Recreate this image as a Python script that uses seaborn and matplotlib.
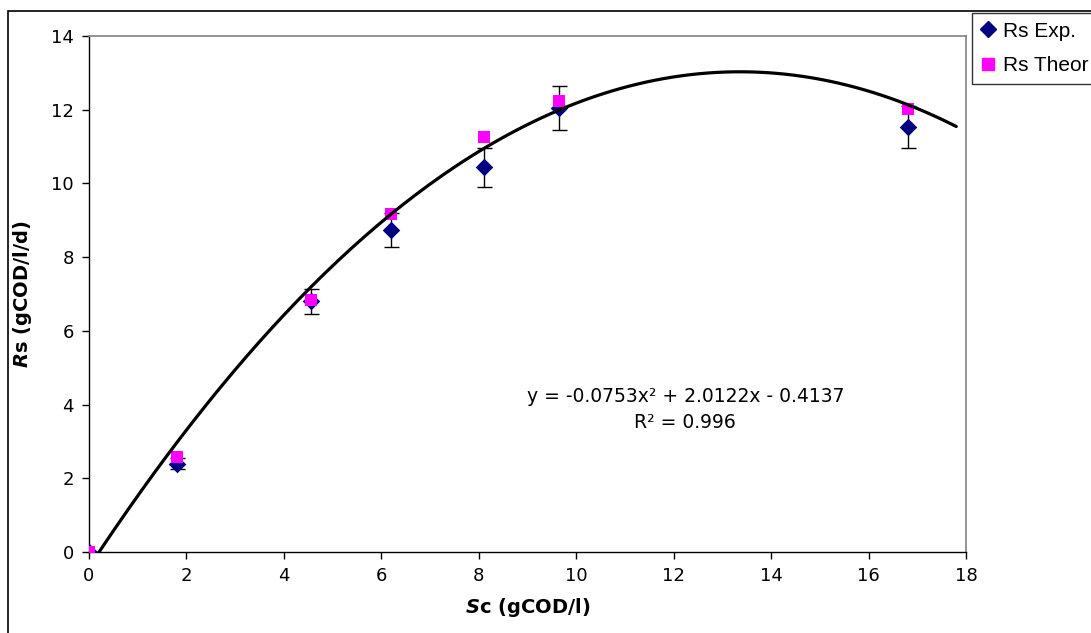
import numpy as np
import pandas as pd
import matplotlib
matplotlib.use("Agg")
import matplotlib.pyplot as plt
from matplotlib.lines import Line2D
from matplotlib.patches import Rectangle
import seaborn as sns

# ---- data ----
sc = [0.0, 1.8, 4.55, 6.2, 8.1, 9.65, 16.8]
rs_exp = [0.0, 2.4, 6.8, 8.73, 10.44, 12.05, 11.53]
rs_err = [0.0, 0.15, 0.33, 0.46, 0.53, 0.6, 0.56]
rs_theor = [0.0, 2.57, 6.85, 9.18, 11.25, 12.24, 12.03]
trend_coef = [-0.0753, 2.0122, -0.4137]
trend_range = [0.0, 17.8]
x_ticks = [0, 2, 4, 6, 8, 10, 12, 14, 16, 18]
y_ticks = [0, 2, 4, 6, 8, 10, 12, 14]
legend_labels = ["Rs Exp.", "Rs Theor"]
eq_text = "y = -0.0753x\u00b2 + 2.0122x - 0.4137"
r2_text = "R\u00b2 = 0.996"

sns.set_theme(style="white")
plt.rcParams["font.family"] = ["DejaVu Sans"]
plt.rcParams["text.color"] = "black"
plt.rcParams["axes.labelcolor"] = "black"
plt.rcParams["xtick.color"] = "black"
plt.rcParams["ytick.color"] = "black"
plt.rcParams["mathtext.fontset"] = "custom"
plt.rcParams["mathtext.it"] = "DejaVu Sans:italic:bold"
plt.rcParams["mathtext.rm"] = "DejaVu Sans:bold"

W, H = 1091, 633
fig = plt.figure(figsize=(W / 100, H / 100), dpi=100)
fig.patch.set_facecolor("white")
ax = fig.add_axes([89 / W, 1 - 552 / H, (966 - 89) / W, (552 - 36) / H])

df = pd.DataFrame({"Sc": sc, "Exp": rs_exp, "Err": rs_err, "Theor": rs_theor})

# error bars
ax.errorbar(df["Sc"], df["Exp"], yerr=df["Err"], fmt="none", ecolor="black",
            elinewidth=1.0, capsize=5.4, capthick=1.0, zorder=2)
# experimental diamonds
sns.scatterplot(data=df, x="Sc", y="Exp", marker="D", color="#000080", s=80,
                linewidth=0, ax=ax, zorder=3, legend=False)
# theoretical squares
sns.scatterplot(data=df, x="Sc", y="Theor", marker="s", color="#FF00FF", s=72,
                linewidth=0, ax=ax, zorder=4, legend=False)

# trendline
xs = np.linspace(trend_range[0], trend_range[1], 200)
trend = pd.DataFrame({"x": xs, "y": np.polyval(trend_coef, xs)})
sns.lineplot(data=trend, x="x", y="y", color="black", linewidth=2.3, ax=ax,
             zorder=5, estimator=None, sort=False)

ax.set_xlim(0, 18)
ax.set_ylim(0, 14)
ax.set_xticks(x_ticks)
ax.set_yticks(y_ticks)
ax.set_xticklabels([str(t) for t in x_ticks], fontsize=13, color="black")
ax.set_yticklabels([str(t) for t in y_ticks], fontsize=13, color="black")
ax.tick_params(axis="both", direction="out", length=5, width=1, color="black",
               labelcolor="black", bottom=True, left=True, pad=6)
for side in ["left", "bottom"]:
    ax.spines[side].set_color("black")
    ax.spines[side].set_linewidth(1.0)
for side in ["top", "right"]:
    ax.spines[side].set_color("#808080")
    ax.spines[side].set_linewidth(1.2)

ax.set_xlabel(r"$\mathit{S}$c (gCOD/l)", fontsize=14, fontweight="bold",
              labelpad=8, color="black")
ax.set_ylabel(r"$\mathit{R}$s (gCOD/l/d)", fontsize=14, fontweight="bold",
              labelpad=12, color="black")

ax.text(12.24, 4.23, eq_text, ha="center", va="center", fontsize=13.5, color="black")
ax.text(12.24, 3.52, r2_text, ha="center", va="center", fontsize=13.5, color="black")

# outer chart border
fig.patches.append(Rectangle((8 / W, -0.1), 1.2, 1.1 - 11 / H,
                             transform=fig.transFigure, fill=False,
                             edgecolor="black", linewidth=1.2, zorder=0))

handles = [Line2D([], [], marker="D", color="#000080", linestyle="none", markersize=8.5),
           Line2D([], [], marker="s", color="#FF00FF", linestyle="none", markersize=8.5)]
leg = fig.legend(handles, legend_labels, loc="upper left",
                 bbox_to_anchor=(972 / W, 1 - 13 / H), frameon=True, fancybox=False,
                 edgecolor="black", borderaxespad=0, handlelength=0.7,
                 handletextpad=0.35, labelspacing=0.73, borderpad=0.42,
                 prop={"family": "Liberation Sans", "size": 15})
leg.get_frame().set_linewidth(1.0)
for t in leg.get_texts():
    t.set_color("black")

fig.savefig("out.png", dpi=100)
